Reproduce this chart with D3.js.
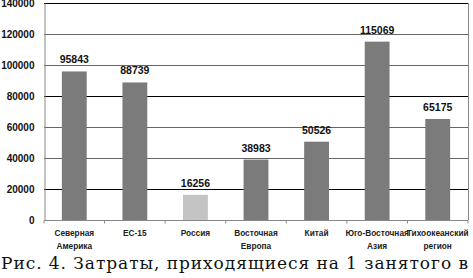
<!DOCTYPE html>
<html>
<head>
<meta charset="utf-8">
<script src="https://cdn.jsdelivr.net/npm/d3@7"></script>
<style>
  body { margin: 0; background: #fff; }
  svg { display: block; }
  .tick-label { font-family: "Liberation Sans", Arial, sans-serif; font-weight: bold; font-size: 10px; fill: #111; }
  .value-label { font-family: "Liberation Sans", Arial, sans-serif; font-weight: bold; font-size: 10.5px; fill: #111; }
  .cat-label { font-family: "Liberation Sans", Arial, sans-serif; font-weight: bold; font-size: 8.3px; fill: #222; }
  .caption { font-family: "DejaVu Serif", "Liberation Serif", serif; font-size: 17px; fill: #111; }
</style>
</head>
<body>
<div id="chart"></div>
<script>
const categories = [
  ["Северная", "Америка"],
  ["ЕС-15"],
  ["Россия"],
  ["Восточная", "Европа"],
  ["Китай"],
  ["Юго-Восточная", "Азия"],
  ["Тихоокеанский", "регион"]
];
const values = [95843, 88739, 16256, 38983, 50526, 115069, 65175];
const yTicks = [0, 20000, 40000, 60000, 80000, 100000, 120000, 140000];
const caption = "Рис. 4. Затраты, приходящиеся на 1 занятого в";

const width = 473, height = 278;
const margin = { left: 44, right: 5, top: 3, bottom: 58 };

const svg = d3.select("#chart").append("svg")
  .attr("width", width)
  .attr("height", height);

const xScale = d3.scaleBand()
  .domain(d3.range(categories.length))
  .range([margin.left, width - margin.right])
  .paddingInner(0.59)
  .paddingOuter(0.295);

const yScale = d3.scaleLinear()
  .domain([0, 140000])
  .range([height - margin.bottom, margin.top]);

// gridlines
svg.append("g")
  .selectAll("line")
  .data(yTicks.filter(d => d > 0))
  .join("line")
  .attr("x1", margin.left)
  .attr("x2", width - margin.right)
  .attr("y1", d => Math.round(yScale(d)) + 0.5)
  .attr("y2", d => Math.round(yScale(d)) + 0.5)
  .attr("stroke", d => (d === 20000 || d === 80000 || d === 140000) ? "#000" : "#666")
  .attr("stroke-width", 1);

// right border of the plot
svg.append("line")
  .attr("x1", width - margin.right + 0.5)
  .attr("x2", width - margin.right + 0.5)
  .attr("y1", yScale(140000))
  .attr("y2", yScale(0))
  .attr("stroke", "#888");

// bars
svg.append("g")
  .selectAll("rect")
  .data(values)
  .join("rect")
  .attr("x", (d, i) => xScale(i))
  .attr("y", d => yScale(d))
  .attr("width", xScale.bandwidth())
  .attr("height", d => yScale(0) - yScale(d))
  .attr("fill", (d, i) => categories[i][0] === "Россия" ? "#c4c4c4" : "#7b7b7b");

// value labels
svg.append("g")
  .selectAll("text")
  .data(values)
  .join("text")
  .attr("class", "value-label")
  .attr("x", (d, i) => xScale(i) + xScale.bandwidth() / 2)
  .attr("y", d => yScale(d) - 8)
  .attr("text-anchor", "middle")
  .text(d => d);

// y axis
const yAxis = d3.axisLeft(yScale).tickValues(yTicks).tickSize(0).tickPadding(10).tickFormat(d3.format("d"));
const yG = svg.append("g")
  .attr("transform", `translate(${margin.left + 0.5},0)`)
  .call(yAxis);
yG.select(".domain").attr("stroke", "#888");
yG.selectAll("text").attr("class", "tick-label").attr("dy", "0.35em");

// x axis with ticks at band boundaries
const xG = svg.append("g")
  .attr("transform", `translate(0,${Math.round(yScale(0)) + 0.5})`);
xG.append("line")
  .attr("x1", margin.left)
  .attr("x2", width - margin.right)
  .attr("stroke", "#888");
const step = xScale.step();
xG.selectAll(".xtick")
  .data(d3.range(categories.length + 1))
  .join("line")
  .attr("class", "xtick")
  .attr("x1", i => margin.left + i * step)
  .attr("x2", i => margin.left + i * step)
  .attr("y1", 0)
  .attr("y2", 3)
  .attr("stroke", "#888");

// category labels
const catG = svg.append("g")
  .selectAll("text")
  .data(categories)
  .join("text")
  .attr("class", "cat-label")
  .attr("text-anchor", "middle")
  .attr("x", (d, i) => xScale(i) + xScale.bandwidth() / 2)
  .attr("y", yScale(0) + 16);
catG.selectAll("tspan")
  .data(d => d)
  .join("tspan")
  .attr("x", function() { return this.parentNode.getAttribute("x"); })
  .attr("dy", (d, i) => i === 0 ? 0 : 13)
  .text(d => d);

// caption
svg.append("text")
  .attr("class", "caption")
  .attr("x", 1)
  .attr("y", 269)
  .attr("textLength", 467)
  .attr("lengthAdjust", "spacing")
  .text(caption);
</script>
</body>
</html>
